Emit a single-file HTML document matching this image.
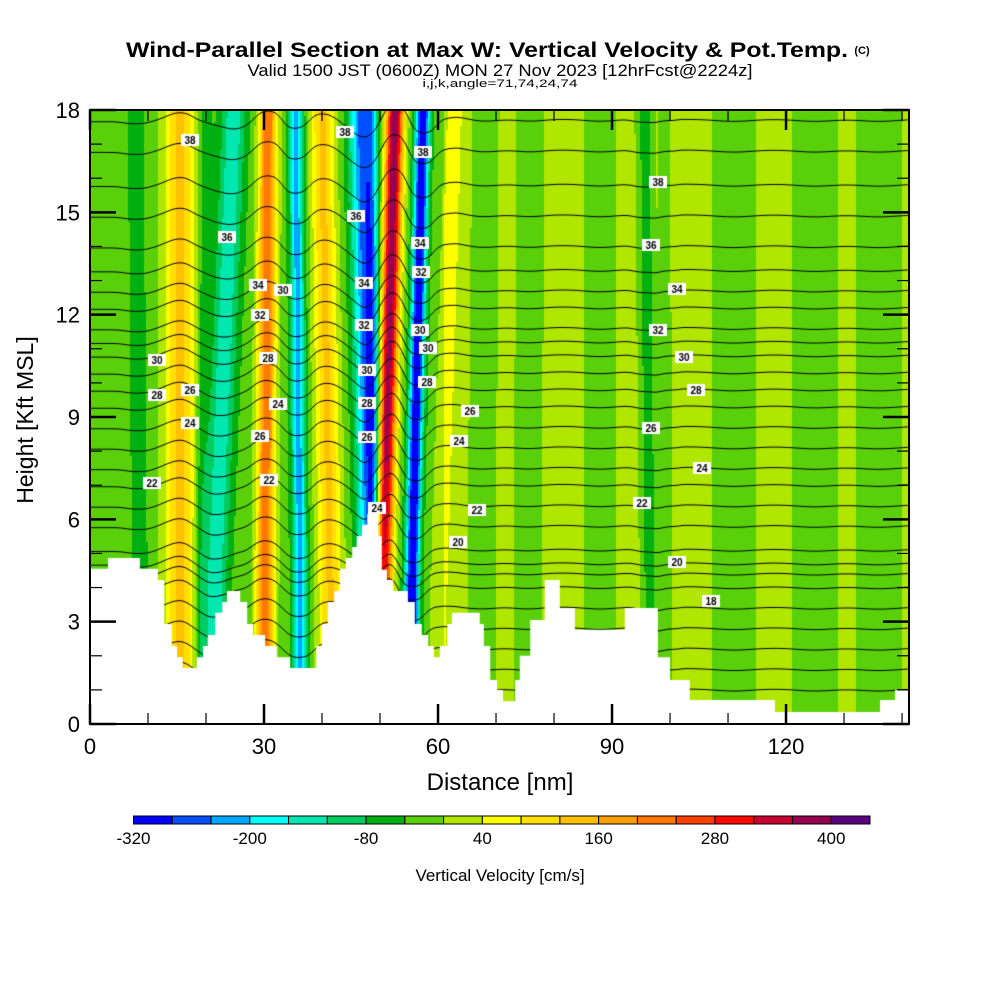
<!DOCTYPE html>
<html><head><meta charset="utf-8"><style>
body{margin:0;background:#fff;width:1000px;height:1000px;overflow:hidden;position:relative;font-family:"Liberation Sans",sans-serif}
#cv{position:absolute;left:0;top:0}
svg{position:absolute;left:0;top:0}
</style></head><body>
<canvas id="cv" width="1000" height="1000"></canvas>
<svg id="sv" width="1000" height="1000">
<text x="487" y="57" text-anchor="middle" font-size="21" font-weight="bold" textLength="722" lengthAdjust="spacingAndGlyphs">Wind-Parallel Section at Max W: Vertical Velocity &amp; Pot.Temp.</text>
<text x="862" y="54" text-anchor="middle" font-size="11" font-weight="bold">(C)</text>
<text x="500" y="76" text-anchor="middle" font-size="17" textLength="505" lengthAdjust="spacingAndGlyphs">Valid 1500 JST (0600Z) MON 27 Nov 2023 [12hrFcst@2224z]</text>
<text x="500" y="87" text-anchor="middle" font-size="11" textLength="155" lengthAdjust="spacingAndGlyphs">i,j,k,angle=71,74,24,74</text>
<g id="axes"></g>
<text x="500" y="790" text-anchor="middle" font-size="24">Distance [nm]</text>
<text transform="translate(33,420) rotate(-90)" text-anchor="middle" font-size="23">Height [Kft MSL]</text>
<g id="cbar"></g>
<text x="500" y="881" text-anchor="middle" font-size="17">Vertical Velocity [cm/s]</text>
</svg>
<script>
// ---- data ----
const xTicks=[0,30,60,90,120];
const yTicks=[0,3,6,9,12,15,18];
const cbLevels=[-320,-280,-240,-200,-160,-120,-80,-40,0,40,80,120,160,200,240,280,320,360,400,440];
const cbColors=["#0000ff","#0050ff","#00a8ff","#00ffff","#00e8b0","#00cc60","#00b010","#5ad00a","#b0e600","#ffff00","#ffe000","#ffc000","#ffa000","#ff7800","#ff4000","#ff0800","#c80030","#960050","#5a0080"];
const cbLabels=[-320,-200,-80,40,160,280,400];
// terrain steps: start distance (nm), height (kft)
const terrX=[0,3.1,8.6,11.7,12.8,14.1,15.0,16.0,18.4,19.5,20.3,21.6,22.8,23.6,25.9,27.1,28.1,30.2,32.2,34.5,39.0,40.0,41.0,42.1,43.1,44.1,45.2,46.0,46.9,47.8,49.7,50.3,51.2,52.2,54.8,56.0,57.2,58.3,59.3,60.3,61.6,62.4,67.2,67.9,69.0,70.2,71.2,73.3,74.1,75.9,78.4,81.0,83.6,92.2,94.8,97.9,100.0,103.4,115.5,118.1,136.2,138.8];
const terrZ=[4.55,4.87,4.55,4.22,2.93,2.29,1.96,1.64,1.96,2.29,2.61,3.26,3.58,3.9,3.58,2.93,2.61,2.29,1.96,1.64,2.29,2.93,3.58,3.9,4.55,4.87,5.19,5.51,5.84,6.16,5.51,4.52,4.22,3.9,3.58,2.93,2.61,2.29,1.96,2.29,2.93,3.26,2.93,2.29,1.29,1.0,0.67,1.29,2.0,3.05,4.22,3.4,2.76,3.4,3.4,1.96,1.29,0.7,0.7,0.35,0.7,1.0];
// vertical velocity streaks: x at top (18 kft), x at 4 kft (nm), half-width (nm), amplitude (cm/s)
const streakTop=[7.9,15.5,20.0,24.8,30.7,35.5,40.0,46.9,48.6,52.6,57.4,62.9,68.1,75.9,87.9,95.7,99.0,111,125,136];
const streakBot=[8.6,15.5,19.0,21.5,30.2,36.2,41.4,48.6,48.8,50.5,55.5,60.3,67.5,75.5,87.9,96.5,99.5,111,125,136];
const streakWid=[1.4,2.6,1.0,2.2,1.5,1.2,2.0,2.2,1.0,1.5,1.2,1.8,2.5,2.5,3.0,1.3,0.8,4,4,4];
const streakAmp=[-50,150,-50,-130,250,-200,150,-240,-80,420,-320,45,-30,-30,-30,-75,-50,-30,-30,-30];
const bgSplit=61; const bgLeft=-20; const bgRight=12;
// potential temperature levels (K) and base heights (kft)
const thetaLev=[12,13,14,15,16,17,18,19,20,21,22,23,24,25,26,27,28,29,30,31,32,33,34,35,36,37,38,39,40];
const thetaZ=[1.0,1.6,2.2,2.8,3.4,4.0,4.4,4.7,5.1,5.8,6.4,7.0,7.5,8.1,8.7,9.3,9.8,10.3,10.8,11.2,11.6,12.2,12.7,13.3,14.0,14.9,15.8,16.8,17.7];
const labPx=[190,345,423,227,356,420,421,420,258,283,260,268,364,364,428,427,367,367,367,157,157,190,190,278,260,269,152,377,470,459,477,458,658,651,677,658,684,696,651,702,642,677,711];
const labPy=[140,132,152,237,216,243,272,330,285,290,315,358,283,325,348,382,370,403,437,360,395,390,423,404,436,480,483,508,411,441,510,542,182,245,289,330,357,390,428,468,503,562,601];
const labTxt=["38","38","38","36","36","34","32","30","34","30","32","28","34","32","30","28","30","28","26","30","28","26","24","24","26","22","22","24","26","24","22","20","38","36","34","32","30","28","26","24","22","20","18"];

// ---- axes ----
const X0=90,X1=909,Y0=724,Y1=110,XMAX=141.2,YMAX=18;
const sx=v=>X0+(v/XMAX)*(X1-X0);
const sy=v=>Y0-(v/YMAX)*(Y0-Y1);
function wAt(x,z){
  let w=x<bgSplit?bgLeft:bgRight;
  const t=Math.max(0,(z-4)/14);
  for(let i=0;i<streakTop.length;i++){
    const xc=streakBot[i]+(streakTop[i]-streakBot[i])*t;
    const d=(x-xc)/streakWid[i];
    w+=streakAmp[i]*Math.exp(-d*d);
  }
  return w;
}
function col(w){
  let i=Math.floor((w-cbLevels[0])/40);
  i=Math.max(0,Math.min(cbColors.length-1,i));
  return cbColors[i];
}
function terr(x){let h=terrZ[0];for(let i=0;i<terrX.length;i++){if(x>=terrX[i])h=terrZ[i];}return h;}
const cv=document.getElementById('cv');const c=cv.getContext('2d');
const step=2;
for(let px=X0;px<X1;px+=step){
  const x=(px+1-X0)/(X1-X0)*XMAX;
  for(let py=Y1;py<Y0;py+=step){
    const z=(Y0-py-1)/(Y0-Y1)*YMAX;
    c.fillStyle=col(wAt(x,z));
    c.fillRect(px,py,step,step);
  }
}
// theta contours
c.save();
c.beginPath();c.rect(X0,Y1,X1-X0,Y0-Y1);c.clip();
c.strokeStyle='#000';c.lineWidth=1;
for(let k=0;k<thetaLev.length;k++){
  c.beginPath();
  for(let px=X0;px<=X1;px+=2){
    const x=(px-X0)/(X1-X0)*XMAX;
    let ws=0;for(let d=-2;d<=2;d+=0.5)ws+=wAt(x+d,thetaZ[k]);ws/=9;
    const z=thetaZ[k]+0.0022*ws;
    const py=sy(z);
    if(px===X0)c.moveTo(px,py);else c.lineTo(px,py);
  }
  c.stroke();
}
c.restore();
// terrain mask
c.fillStyle='#fff';
c.beginPath();c.moveTo(X0,Y0);
for(let i=0;i<terrX.length;i++){
  const xa=sx(terrX[i]),xb=i+1<terrX.length?sx(terrX[i+1]):X1;
  c.lineTo(xa,sy(terrZ[i]));c.lineTo(xb,sy(terrZ[i]));
}
c.lineTo(X1,Y0);c.closePath();c.fill();
// labels
c.font='bold 10px "Liberation Sans",sans-serif';c.textAlign='center';c.textBaseline='middle';
for(let i=0;i<labTxt.length;i++){
  c.fillStyle='#fff';c.fillRect(labPx[i]-9,labPy[i]-6,18,12);
  c.fillStyle='#000';c.fillText(labTxt[i],labPx[i],labPy[i]+1);
}

const NS='http://www.w3.org/2000/svg';
function mk(tag,attrs,parent){const e=document.createElementNS(NS,tag);for(const k in attrs)e.setAttribute(k,attrs[k]);parent.appendChild(e);return e;}
const ax=document.getElementById('axes');
const frame=mk('rect',{x:X0,y:Y1,width:X1-X0,height:Y0-Y1,fill:'none',stroke:'#000','stroke-width':2},ax);


for(let v=0;v<=140;v+=10){
  const L=v%30===0?20:11;
  const x=sx(v);
  mk('line',{x1:x,y1:Y0,x2:x,y2:Y0-L,stroke:'#000','stroke-width':L>15?2.5:1.2},ax);
  mk('line',{x1:x,y1:Y1,x2:x,y2:Y1+L,stroke:'#000','stroke-width':L>15?2.5:1.2},ax);
}
for(let v=0;v<=18;v+=1){
  const L=v%3===0?26:12;const y=sy(v);
  mk('line',{x1:X0,y1:y,x2:X0+L,y2:y,stroke:'#000','stroke-width':L>15?2.5:1.2},ax);
  mk('line',{x1:X1,y1:y,x2:X1-L,y2:y,stroke:'#000','stroke-width':L>15?2.5:1.2},ax);
}
xTicks.forEach(v=>{
  const t=mk('text',{x:sx(v),y:754,'text-anchor':'middle','font-size':22},ax);t.textContent=v;
  
  
});
yTicks.forEach(v=>{
  const t=mk('text',{x:80,y:sy(v)+8,'text-anchor':'end','font-size':22},ax);t.textContent=v;
  
  
});
// colorbar
const cb=document.getElementById('cbar');
const CB0=133.5,CBW=(870-133.5)/cbColors.length;
cbColors.forEach((cl,i)=>{
  const r=mk('rect',{x:CB0+i*CBW,y:816,width:CBW,height:8,fill:cl,stroke:'#000','stroke-width':1},cb);
  
  
});
cbLabels.forEach(v=>{
  const i=(v-cbLevels[0])/40;
  const t=mk('text',{x:CB0+i*CBW,y:844,'text-anchor':'middle','font-size':17},cb);t.textContent=v;
  
  
});
</script>
</body></html>
